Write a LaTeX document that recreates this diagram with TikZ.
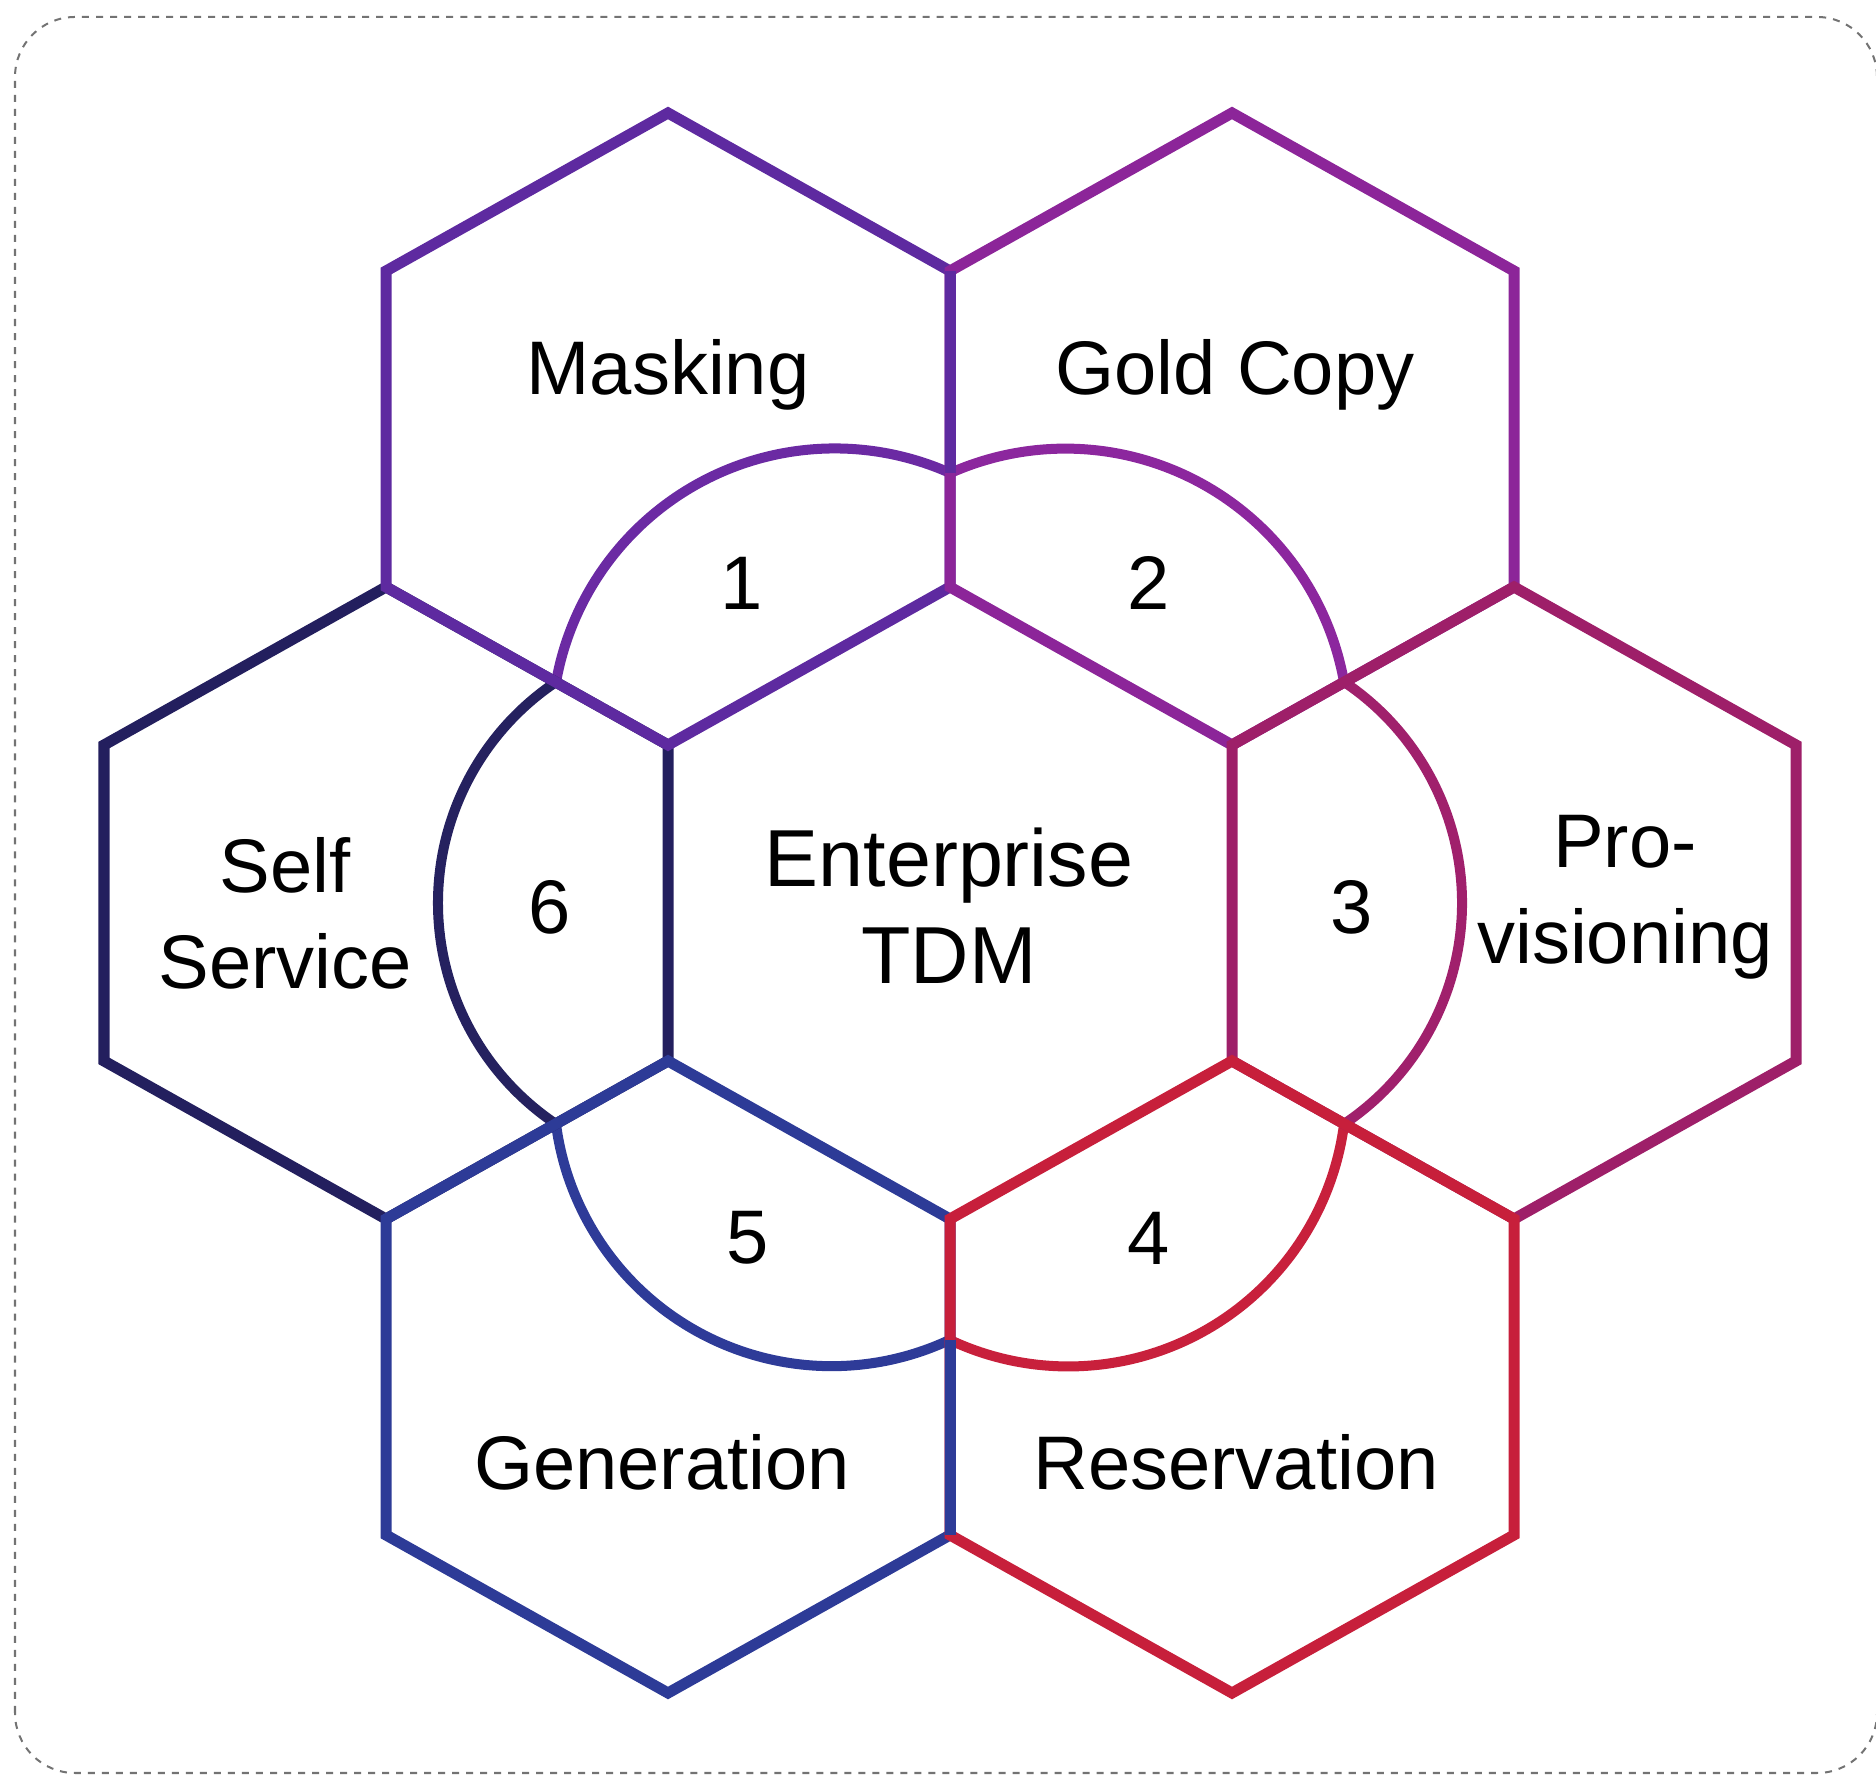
\documentclass[tikz,border=0pt]{standalone}
\usepackage{fontspec}
\setmainfont{Liberation Sans}
\usetikzlibrary{calc}
\definecolor{cSelf}{HTML}{231F5E}
\definecolor{cMask}{HTML}{5E2AA0}
\definecolor{cGold}{HTML}{8C2599}
\definecolor{cProv}{HTML}{9E1F69}
\definecolor{cRes}{HTML}{C71F3B}
\definecolor{cGen}{HTML}{2D3B97}
\definecolor{aOne}{HTML}{6B2AA3}
\definecolor{aTwo}{HTML}{8C279E}
\definecolor{aThree}{HTML}{A0206C}
\definecolor{aFour}{HTML}{C8203C}
\definecolor{aFive}{HTML}{2E3B98}
\definecolor{aSix}{HTML}{25215F}
\newcommand{\hexat}[2]{\draw[hexline,draw=#2] (#1) ++(0,316) -- ++(-282,-158) -- ++(0,-316) -- ++(282,-158) -- ++(282,158) -- ++(0,316) -- cycle;}
\begin{document}
\begin{tikzpicture}[x=0.01cm,y=0.01cm,
 hexline/.style={line width=0.11cm, line join=miter},
 arcline/.style={line width=0.1cm},
 lbl/.style={font=\fontsize{21.6}{27.3}\selectfont, align=center, text=black, inner sep=0pt},
 biglbl/.style={lbl, font=\fontsize{23}{27.5}\selectfont},
 border/.style={draw=black!55, line width=0.02cm, dash pattern=on 0.07cm off 0.07cm, rounded corners=0.6cm}]
\useasboundingbox (0,0) rectangle (1876,1776);
\draw[border] (15,3) rectangle (1877,1759);
\coordinate (C) at (950,873);
\coordinate (hS) at (386,873);
\coordinate (hM) at (668,1347);
\coordinate (hG) at (1232,1347);
\coordinate (hP) at (1514,873);
\coordinate (hN) at (668,399);
\coordinate (hR) at (1232,399);
% junctions of the petals
\coordinate (jt) at (950,1303);
\coordinate (jb) at (950,436);
\coordinate (jul) at (556,1094);
\coordinate (jur) at (1344,1094);
\coordinate (jll) at (556,652);
\coordinate (jlr) at (1344,652);
% petals
\draw[arcline,draw=aOne] (jt) arc[start angle=65.96, end angle=169.9, radius=283];
\draw[arcline,draw=aTwo] (jur) arc[start angle=10.1, end angle=114.04, radius=283];
\draw[arcline,draw=aThree] (jlr) arc[start angle=-56.2, end angle=56.2, radius=266];
\draw[arcline,draw=aFour] (jb) arc[start angle=244.8, end angle=352.6, radius=278];
\draw[arcline,draw=aFive] (jll) arc[start angle=187.4, end angle=295.2, radius=278];
\draw[arcline,draw=aSix] (jul) arc[start angle=123.8, end angle=236.2, radius=266];
% hexagons
\hexat{hS}{cSelf}
\hexat{hM}{cMask}
\hexat{hG}{cGold}
\hexat{hP}{cProv}
\hexat{hN}{cGen}
\hexat{hR}{cRes}
\draw[hexline,draw=cMask] (950,1505) -- (jt);
\draw[hexline,draw=cGen] (jb) -- (950,241);
% labels
\node[lbl] (mask) at (668,1401) {Masking};
\node[lbl] (gold) at (1235,1401) {Gold Copy};
\node[lbl] (self) at (285,863) {Self\\Service};
\node[lbl] (prov) at (1625,879) {Pro-\\visioning};
\node[biglbl] (tdm) at (949,870) {Enterprise\\TDM};
\node[lbl] (gen) at (662,314) {Generation};
\node[lbl] (res) at (1236,314) {Reservation};
\node[lbl] (n1) at (742,1193) {1};
\node[lbl] (n2) at (1149,1193) {2};
\node[lbl] (n3) at (1352,869) {3};
\node[lbl] (n4) at (1149,538) {4};
\node[lbl] (n5) at (748,538) {5};
\node[lbl] (n6) at (550,869) {6};
\end{tikzpicture}
\end{document}
